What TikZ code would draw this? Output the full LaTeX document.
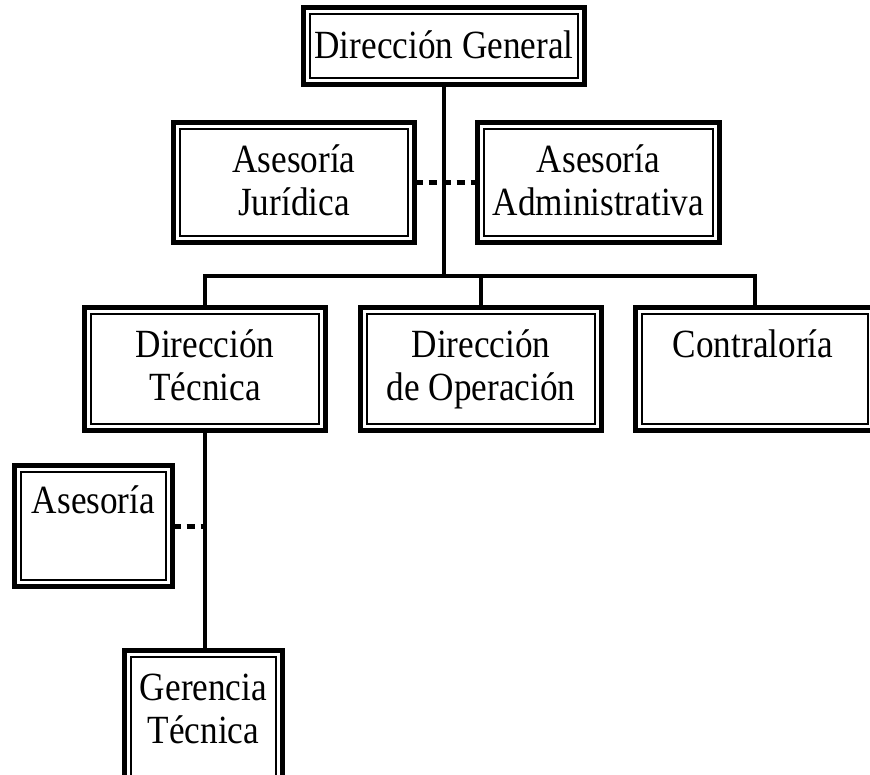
\documentclass[tikz,border=0pt]{standalone}
\usepackage{fontspec}
\setmainfont{Liberation Serif}[FakeStretch=0.88]
\usetikzlibrary{fit,calc}
\tikzset{
  orgframe/.style={draw, line width=5pt, rectangle, inner sep=0pt, outer sep=0pt},
  orginner/.style={draw, line width=1.5pt},
  conn/.style={draw, line width=4.5pt, line join=miter},
  dashconn/.style={draw, line width=5pt, dash pattern=on 8pt off 6pt},
  txt/.style={anchor=base, inner sep=0pt, font=\fontsize{40}{43}\selectfont}
}
\newcommand\orgbox[5]{%
  \node[orgframe, fit={(#2,#3) (#4,#5)}] (#1) {};
  \draw[orginner] ([shift={(6.5pt,-6.5pt)}]#1.north west) rectangle ([shift={(-6.5pt,6.5pt)}]#1.south east);
}
\begin{document}
\begin{tikzpicture}[x=1pt,y=-1pt]
\useasboundingbox (0,0) rectangle (870,774);
% boxes
\orgbox{dg}{303.5}{7.5}{584.5}{84.5}
\orgbox{aj}{173.5}{122.5}{414.5}{242.5}
\orgbox{aa}{477.5}{122.5}{719.5}{242.5}
\orgbox{dt}{84.5}{307.5}{325.5}{430.5}
\orgbox{do}{360.5}{307.5}{601.5}{430.5}
\orgbox{ct}{635.5}{307.5}{874.5}{430.5}
\orgbox{as}{14.5}{465.5}{172.5}{586.5}
\orgbox{gt}{124.5}{650.5}{282.5}{810}
% texts
\node[txt] (dgt1) at ([yshift=-50.5pt]dg.north) {Dirección General};
\node[txt] (ajt1) at ([yshift=-50pt]aj.north) {Asesoría};
\node[txt] (ajt2) at ([yshift=-93pt]aj.north) {Jurídica};
\node[txt] (aat1) at ([yshift=-50pt]aa.north) {Asesoría};
\node[txt] (aat2) at ([yshift=-93pt]aa.north) {Administrativa};
\node[txt] (dtt1) at ([yshift=-50pt]dt.north) {Dirección};
\node[txt] (dtt2) at ([yshift=-93pt]dt.north) {Técnica};
\node[txt] (dot1) at ([yshift=-50pt]do.north) {Dirección};
\node[txt] (dot2) at ([yshift=-93pt]do.north) {de Operación};
\node[txt] (ctt1) at ([xshift=-2pt,yshift=-50pt]ct.north) {Contraloría};
\node[txt] (ast1) at ([yshift=-48pt]as.north) {Asesoría};
\node[txt] (gtt1) at ([yshift=-50pt]gt.north) {Gerencia};
\node[txt] (gtt2) at ([yshift=-93pt]gt.north) {Técnica};
% connectors
\coordinate (bus) at (444,276);
\draw[conn] (dg.south) -- (bus);
\draw[conn] (dt.north) |- (bus) -| (ct.north);
\draw[conn] (do.north) -- (do.north |- bus);
\draw[dashconn] (aj.east) -- (aa.west);
\draw[conn] (dt.south) -- (dt.south |- gt.north);
\draw[dashconn] (as.east) -- (as.east -| dt.south);
\end{tikzpicture}
\end{document}
